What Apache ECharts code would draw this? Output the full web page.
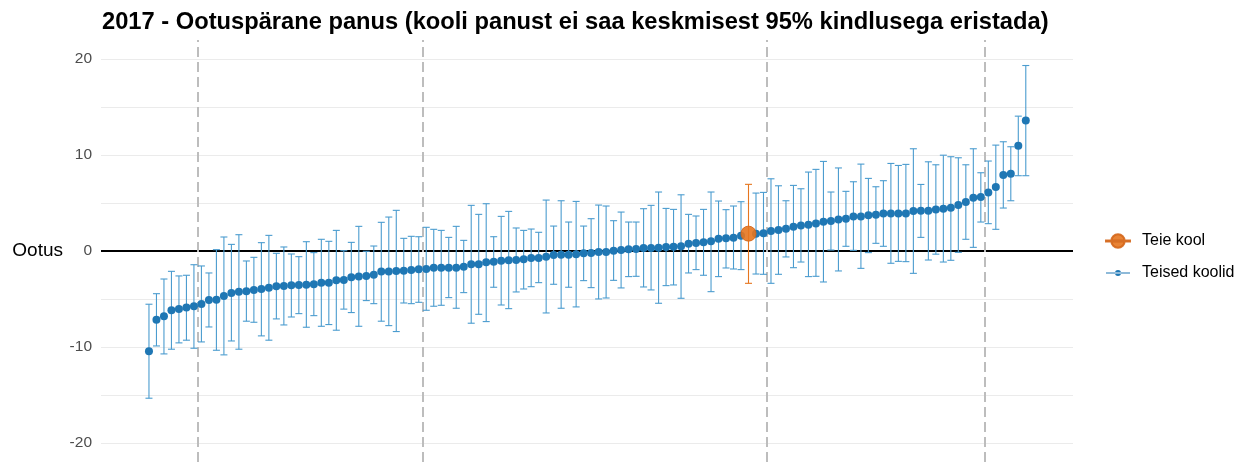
<!DOCTYPE html>
<html>
<head>
<meta charset="utf-8">
<script src="https://cdn.jsdelivr.net/npm/echarts@6/dist/echarts.min.js"></script>
<style>html,body{margin:0;padding:0;background:#fff}#c{width:1245px;height:462px}</style>
</head>
<body>
<div id="c"></div>
<script>
// Estimated school effects (rank order 1..118)
const values = [-10.45,-7.16,-6.80,-6.18,-6.04,-5.90,-5.76,-5.52,-5.10,-5.07,
-4.69,-4.38,-4.24,-4.20,-4.06,-3.96,-3.82,-3.68,-3.65,-3.58,
-3.54,-3.51,-3.47,-3.30,-3.30,-3.06,-3.02,-2.74,-2.67,-2.60,
-2.47,-2.15,-2.15,-2.08,-2.05,-1.98,-1.91,-1.875,-1.74,-1.74,
-1.74,-1.74,-1.63,-1.39,-1.39,-1.18,-1.11,-1.01,-0.97,-0.94,
-0.87,-0.73,-0.73,-0.59,-0.42,-0.38,-0.38,-0.35,-0.24,-0.21,
-0.10,-0.10,0.03,0.10,0.17,0.21,0.31,0.31,0.35,0.42,
0.45,0.49,0.76,0.83,0.90,1.01,1.28,1.32,1.39,1.60,
1.81,1.81,1.84,2.08,2.19,2.33,2.53,2.67,2.74,2.88,
3.06,3.13,3.28,3.37,3.61,3.61,3.72,3.78,3.92,3.92,
3.92,3.92,4.17,4.20,4.20,4.32,4.40,4.51,4.79,5.10,
5.56,5.63,6.11,6.67,7.92,8.06,10.97,13.61];
const lower = [-15.35,-9.90,-10.73,-10.24,-9.58,-9.30,-10.14,-9.48,-7.92,-10.35,
-10.83,-9.38,-10.24,-7.32,-7.43,-8.85,-9.30,-7.08,-7.71,-6.88,
-6.53,-7.95,-6.74,-7.85,-7.67,-8.26,-6.06,-6.42,-7.85,-5.17,
-5.49,-7.32,-7.78,-8.40,-5.42,-5.49,-5.35,-6.18,-5.76,-5.66,
-4.86,-5.97,-4.34,-7.53,-6.60,-7.36,-3.78,-5.63,-6.01,-4.27,
-3.96,-3.72,-3.30,-6.46,-3.47,-5.97,-3.78,-5.83,-3.09,-3.82,
-5.00,-4.90,-3.06,-3.85,-2.67,-2.64,-3.75,-4.06,-5.45,-3.61,
-3.54,-4.93,-2.29,-1.94,-2.53,-4.24,-2.67,-1.77,-1.875,-1.94,
-3.37,-2.40,-2.43,-3.37,-2.43,-0.62,-1.74,-1.15,-2.67,-2.64,
-3.23,0.10,-2.08,0.49,0.07,-1.81,-0.17,0.80,0.49,-1.28,
-1.08,-1.11,-2.33,1.42,-0.94,-0.33,-1.15,-0.97,-0.14,1.22,
0.38,3.02,2.85,2.26,4.48,5.24,7.85,7.85];
const upper = [-5.55,-4.45,-2.92,-2.12,-2.60,-2.53,-1.43,-1.56,-2.29,0.14,
1.46,0.69,1.70,-1.04,-0.66,0.87,1.63,-0.24,0.42,-0.31,
-0.59,0.97,-0.17,1.22,1.01,2.15,0.03,0.90,2.57,-0.03,
0.52,2.99,3.54,4.24,1.32,1.53,1.49,2.47,2.26,2.15,
1.42,2.57,1.11,4.76,3.82,4.93,1.49,3.61,4.13,2.40,
2.15,2.29,1.95,5.31,2.60,5.24,3.02,5.17,2.60,3.37,
4.79,4.69,3.16,4.06,3.02,3.02,4.41,4.76,6.15,4.44,
4.34,5.86,3.82,3.65,4.34,6.15,5.21,4.31,4.69,5.14,
6.95,6.04,6.11,7.53,6.80,5.24,6.84,6.49,8.23,8.51,
9.34,6.15,8.66,6.22,7.22,9.06,7.57,6.70,7.33,9.13,
8.92,9.03,10.66,6.94,9.30,8.99,9.99,9.83,9.72,8.99,
10.66,8.16,9.38,11.04,11.39,10.87,14.06,19.34];
const ownSchoolRank = 81;           // "Teie kool"
const groupBreaks = [7.5, 37.5, 83.5, 112.5];   // dashed separators (rank units)
const yTicks = [-20, -10, 0, 10, 20];

const blueColor = '#1f77b4';
const barBlue = '#4b9ccf';
const orange = '#e6761f';
const FONT = 'Liberation Sans, Arial, sans-serif';

const others = [], own = [], othersBars = [], ownBars = [];
values.forEach((v, i) => {
  const r = i + 1;
  if (r === ownSchoolRank) { own.push([r, v]); ownBars.push([r, lower[i], upper[i]]); }
  else { others.push([r, v]); othersBars.push([r, lower[i], upper[i]]); }
});

function barRenderer(color) {
  return function (params, api) {
    const x = api.value(0);
    const top = api.coord([x, api.value(2)]);
    const bot = api.coord([x, api.value(1)]);
    const hw = 3.5;
    const st = { stroke: color, lineWidth: 1.1 };
    return { type: 'group', children: [
      { type: 'line', shape: { x1: top[0], y1: top[1], x2: bot[0], y2: bot[1] }, style: st },
      { type: 'line', shape: { x1: top[0] - hw, y1: top[1], x2: top[0] + hw, y2: top[1] }, style: st },
      { type: 'line', shape: { x1: bot[0] - hw, y1: bot[1], x2: bot[0] + hw, y2: bot[1] }, style: st }
    ]};
  };
}

const chart = echarts.init(document.getElementById('c'), null, { renderer: 'canvas' });
chart.setOption({
  animation: false,
  backgroundColor: '#fff',
  title: {
    text: '2017 - Ootuspärane panus (kooli panust ei saa keskmisest 95% kindlusega eristada)',
    left: 102, top: 10, padding: 0,
    textStyle: { fontFamily: FONT, fontWeight: 'bold', fontSize: 23.7, color: '#000' }
  },
  grid: { left: 101, right: 172, top: 40, bottom: 0, containLabel: false },
  legend: {
    orient: 'vertical', left: 1100, top: 228,
    itemWidth: 24, itemHeight: 14, itemGap: 16,
    textStyle: { fontFamily: FONT, fontSize: 16, color: '#000', padding: [0, 0, 0, 7] },
    data: [
      { name: 'Teie kool', icon: 'path://M0,0M24,14M0,6.4H24V7.6H0Z M5.3,7A6.7,6.7 0 1,0 18.7,7A6.7,6.7 0 1,0 5.3,7Z' },
      { name: 'Teised koolid', icon: 'path://M0,0M24,14M0,6.4H24V7.6H0Z M9,7A3,3 0 1,0 15,7A3,3 0 1,0 9,7Z' }
    ]
  },
  xAxis: {
    type: 'value', min: -5.4, max: 124.3,
    show: false, splitLine: { show: false }
  },
  yAxis: {
    type: 'value', min: -22, max: 22, interval: 1,
    axisLine: { show: false }, axisTick: { show: false },
    axisLabel: {
      formatter: v => (yTicks.indexOf(v) >= 0 ? String(v) : ''),
      color: '#4d4d4d', fontSize: 15.5, margin: 9, fontFamily: FONT
    },
    splitLine: { show: true, lineStyle: { width: 1, color: ['rgba(0,0,0,0)', 'rgba(0,0,0,0)', '#ebebeb', 'rgba(0,0,0,0)', 'rgba(0,0,0,0)'] } }
  },
  series: [
    {
      type: 'line', data: [], silent: true,
      markLine: {
        z: 1, silent: true, symbol: 'none', animation: false,
        data: [
          { yAxis: 0, lineStyle: { color: '#000', width: 2, type: 'solid' },
            label: { show: true, position: 'start', formatter: 'Ootus', distance: 38, color: '#000', fontSize: 19, fontFamily: FONT } }
        ].concat(groupBreaks.map(b => ({
          xAxis: b, lineStyle: { color: '#bdbdbd', width: 2, type: [10, 5] }, label: { show: false }
        })))
      }
    },
    {
      type: 'custom', z: 3, silent: true,
      renderItem: barRenderer(barBlue),
      encode: { x: 0, y: [1, 2] },
      data: othersBars
    },
    {
      type: 'custom', z: 3, silent: true,
      renderItem: barRenderer(orange),
      encode: { x: 0, y: [1, 2] },
      data: ownBars
    },
    {
      name: 'Teised koolid', type: 'scatter', z: 4,
      symbol: 'circle', symbolSize: 8,
      itemStyle: { color: blueColor, opacity: 1 },
      data: others
    },
    {
      name: 'Teie kool', type: 'scatter', z: 5,
      symbol: 'circle', symbolSize: 15,
      itemStyle: { color: orange, opacity: 0.9, borderColor: '#d4661a', borderWidth: 1 },
      data: own
    }
  ]
});
</script>
</body>
</html>
